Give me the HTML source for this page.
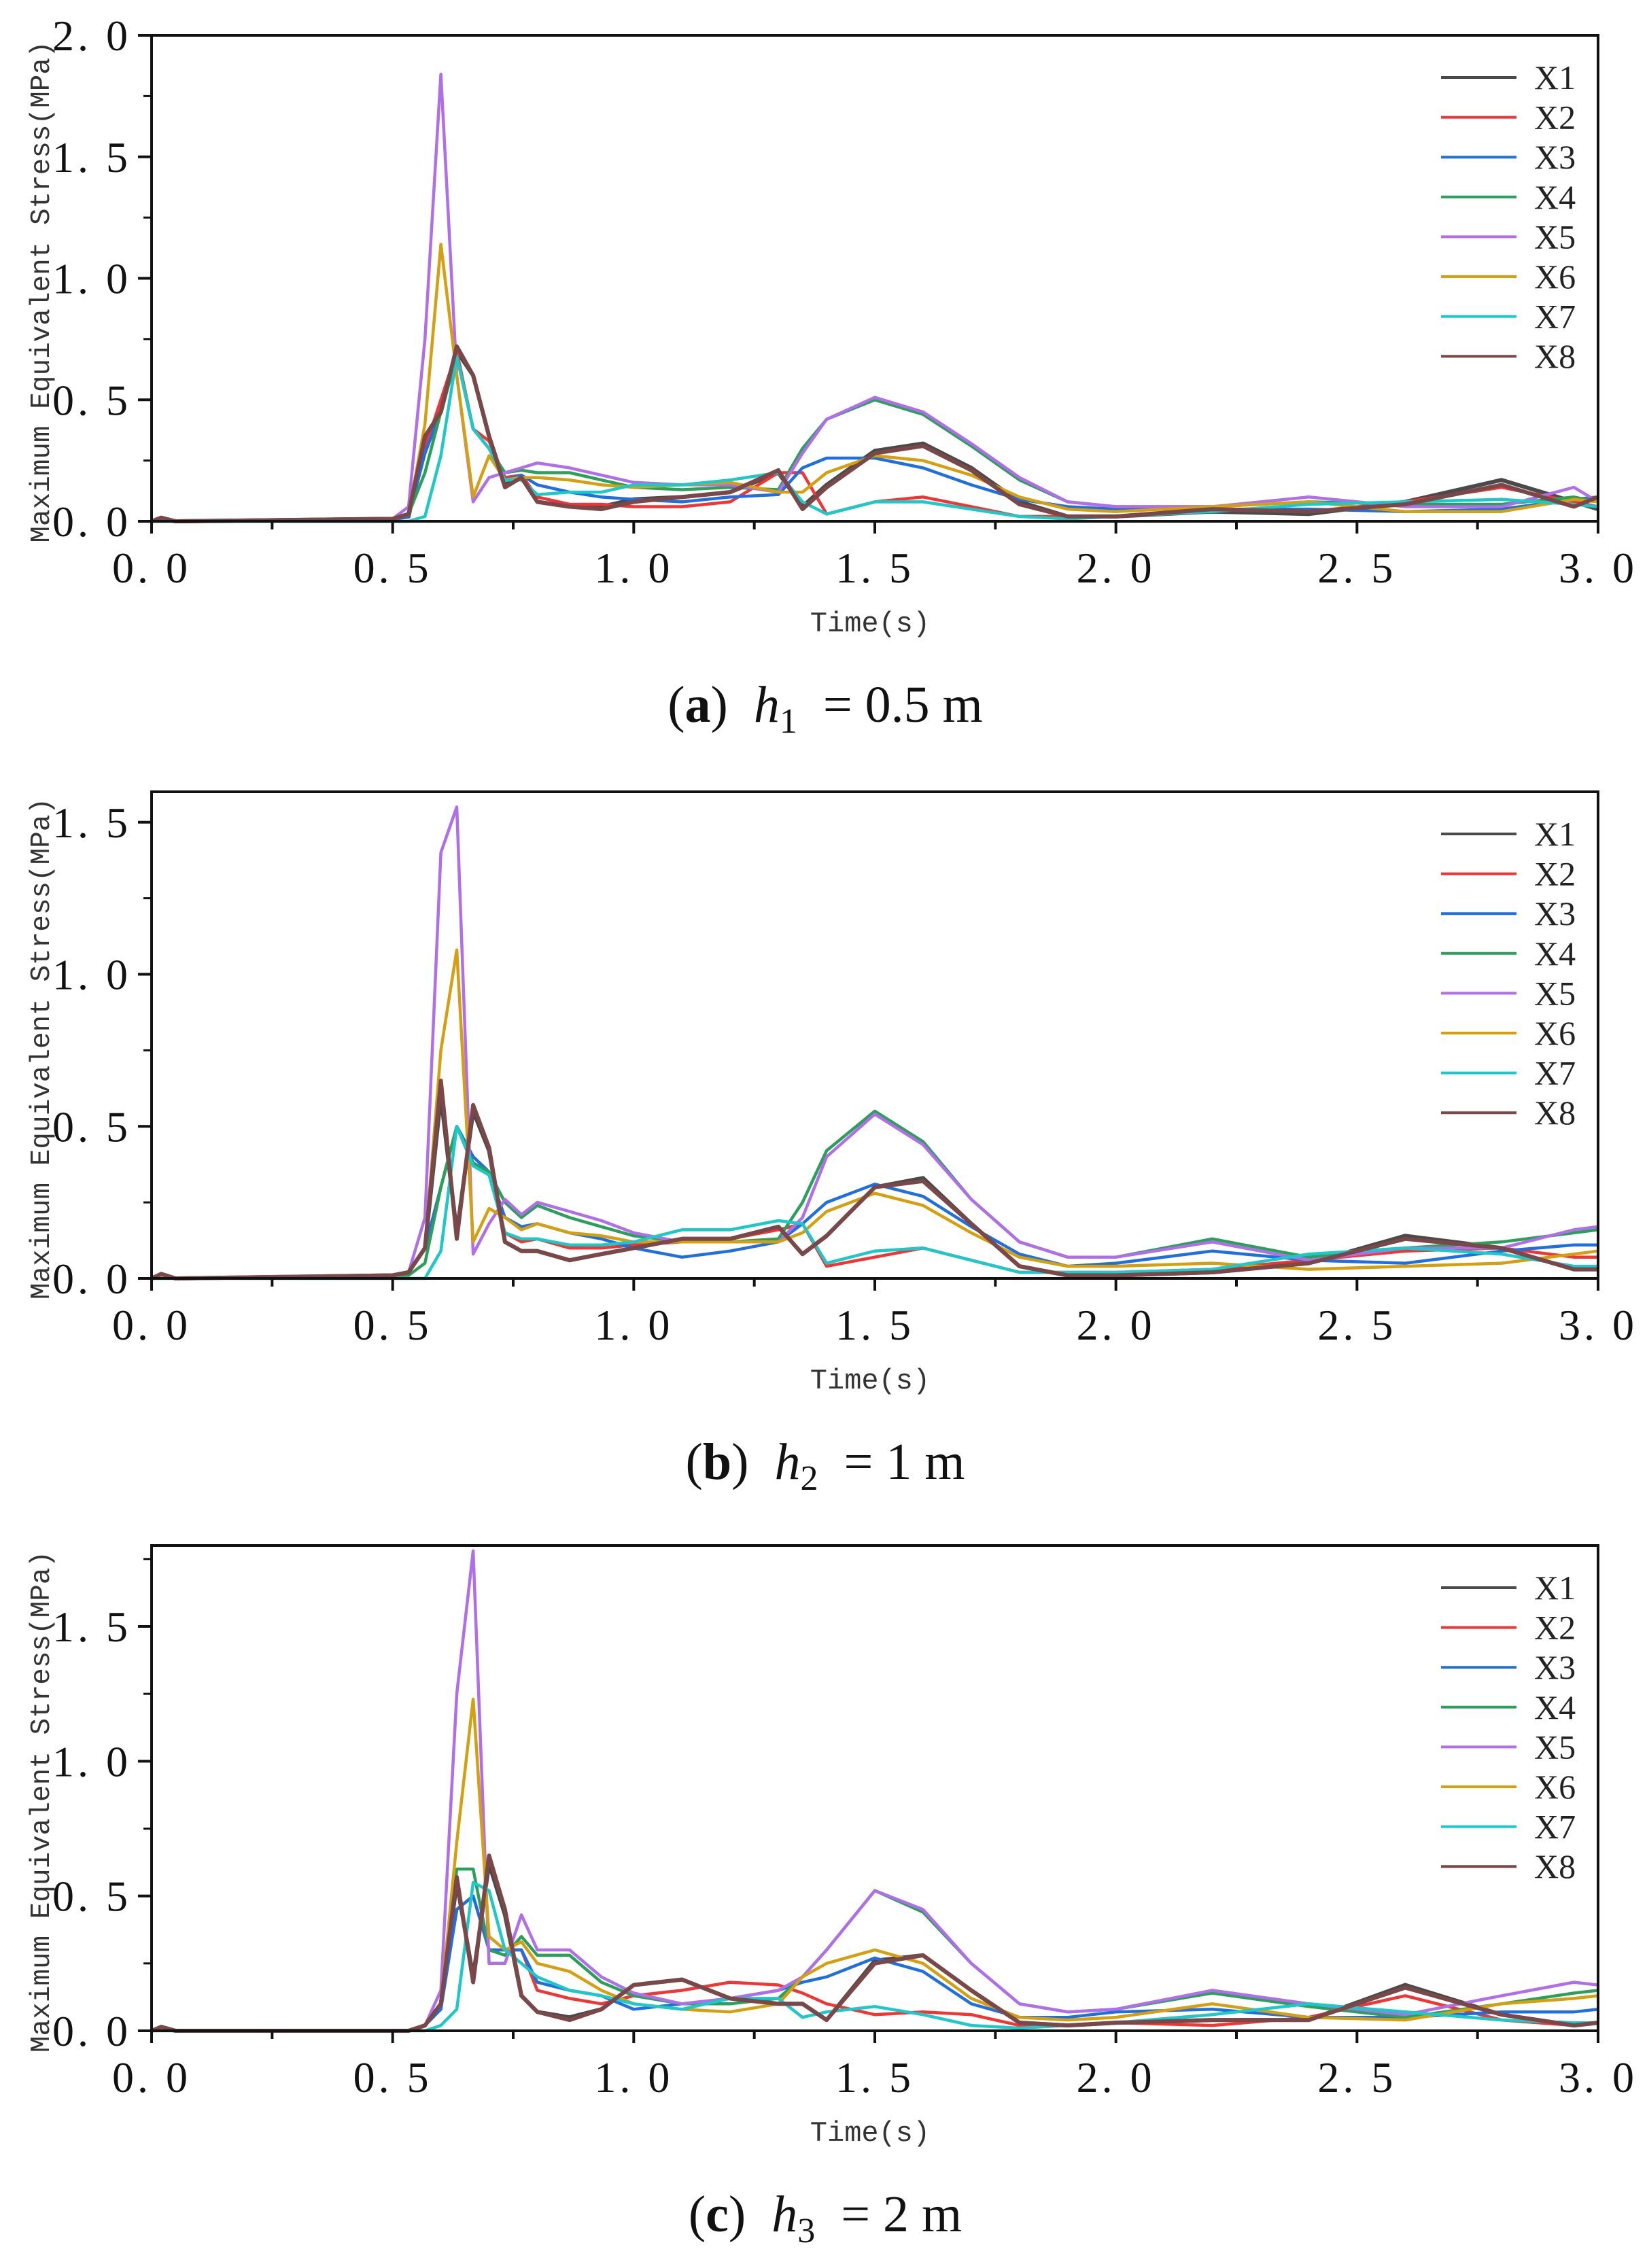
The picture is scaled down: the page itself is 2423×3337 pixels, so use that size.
<!DOCTYPE html>
<html><head><meta charset="utf-8"><style>
html,body{margin:0;padding:0;background:#fff;}
svg{display:block;}
</style></head><body>
<svg id="fig" width="2423" height="3337" viewBox="0 0 2423 3337" xmlns="http://www.w3.org/2000/svg"></svg>
<script>
const times=[0,0.02,0.05,0.5,0.533,0.567,0.6,0.633,0.667,0.7,0.733,0.767,0.8,0.867,0.933,1.0,1.1,1.2,1.3,1.35,1.4,1.5,1.6,1.7,1.8,1.9,2.0,2.2,2.4,2.6,2.8,2.95,3.0];
const seriesNames=["X1","X2","X3","X4","X5","X6","X7","X8"];
const seriesColors=["#4a4a4a","#f03535","#1f6fe0","#2aa05a","#b06ee8","#d4a010","#1cc8c8","#7a4848"];
const xTicks=[0,0.5,1.0,1.5,2.0,2.5,3.0];
const xTickLabels=["0. 0","0. 5","1. 0","1. 5","2. 0","2. 5","3. 0"];
// panel a
const a_X1=[0,0.01,0,0.01,0.02,0.33,0.45,0.7,0.6,0.35,0.15,0.18,0.08,0.06,0.06,0.09,0.1,0.12,0.2,0.06,0.15,0.29,0.32,0.22,0.08,0.02,0.02,0.04,0.03,0.08,0.17,0.08,0.05];
const a_X2=[0,0.01,0,0.01,0.02,0.3,0.5,0.7,0.38,0.33,0.18,0.19,0.1,0.07,0.07,0.06,0.06,0.08,0.2,0.2,0.03,0.08,0.1,0.06,0.02,0.02,0.02,0.05,0.04,0.08,0.14,0.08,0.06];
const a_X3=[0,0.01,0,0.01,0.02,0.28,0.45,0.68,0.38,0.3,0.17,0.19,0.15,0.12,0.1,0.09,0.08,0.1,0.11,0.22,0.26,0.26,0.22,0.15,0.09,0.06,0.05,0.05,0.05,0.04,0.05,0.09,0.1];
const a_X4=[0,0.01,0,0.01,0.03,0.2,0.45,0.68,0.38,0.3,0.2,0.21,0.2,0.2,0.17,0.14,0.13,0.14,0.13,0.3,0.42,0.5,0.44,0.31,0.17,0.08,0.06,0.06,0.08,0.07,0.07,0.1,0.08];
const a_X5=[0,0.01,0,0.01,0.06,0.75,1.84,0.6,0.08,0.18,0.2,0.22,0.24,0.22,0.19,0.16,0.15,0.15,0.12,0.28,0.42,0.51,0.45,0.32,0.18,0.08,0.06,0.06,0.1,0.06,0.06,0.14,0.08];
const a_X6=[0,0.01,0,0.01,0.03,0.4,1.14,0.6,0.1,0.27,0.17,0.18,0.18,0.17,0.15,0.14,0.15,0.16,0.12,0.12,0.2,0.27,0.25,0.19,0.1,0.05,0.04,0.06,0.08,0.04,0.04,0.09,0.08];
const a_X7=[0,0,0,0,0,0.02,0.27,0.68,0.38,0.3,0.17,0.17,0.11,0.12,0.12,0.15,0.15,0.17,0.2,0.08,0.03,0.08,0.08,0.05,0.02,0.01,0.02,0.04,0.07,0.08,0.09,0.07,0.06];
const a_X8=[0,0.015,0,0.01,0.03,0.35,0.45,0.72,0.6,0.35,0.14,0.18,0.08,0.06,0.05,0.08,0.1,0.12,0.21,0.05,0.14,0.28,0.31,0.21,0.07,0.02,0.02,0.05,0.04,0.07,0.15,0.06,0.1];
// panel b
const b_X1=[0,0.01,0,0.01,0.02,0.1,0.6,0.15,0.55,0.42,0.12,0.09,0.09,0.06,0.08,0.1,0.13,0.13,0.17,0.08,0.14,0.3,0.33,0.18,0.04,0.01,0.01,0.02,0.05,0.14,0.1,0.03,0.03];
const b_X2=[0,0.01,0,0.01,0.02,0.1,0.3,0.5,0.4,0.35,0.15,0.12,0.13,0.1,0.1,0.11,0.12,0.13,0.16,0.18,0.04,0.07,0.1,0.06,0.02,0.02,0.02,0.03,0.06,0.09,0.1,0.07,0.07];
const b_X3=[0,0.01,0,0.01,0.02,0.1,0.3,0.5,0.4,0.35,0.2,0.17,0.18,0.15,0.13,0.1,0.07,0.09,0.12,0.18,0.25,0.31,0.27,0.17,0.08,0.04,0.05,0.09,0.06,0.05,0.09,0.11,0.11];
const b_X4=[0,0.01,0,0.01,0.01,0.05,0.3,0.5,0.38,0.35,0.25,0.2,0.24,0.2,0.17,0.14,0.12,0.12,0.13,0.25,0.42,0.55,0.45,0.26,0.12,0.07,0.07,0.13,0.07,0.1,0.12,0.15,0.16];
const b_X5=[0,0.01,0,0.01,0.02,0.2,1.4,1.55,0.08,0.18,0.26,0.21,0.25,0.22,0.19,0.15,0.12,0.12,0.12,0.2,0.4,0.54,0.44,0.26,0.12,0.07,0.07,0.12,0.06,0.1,0.1,0.16,0.17];
const b_X6=[0,0.01,0,0.01,0.02,0.1,0.75,1.08,0.12,0.23,0.2,0.16,0.18,0.15,0.14,0.12,0.12,0.12,0.12,0.15,0.22,0.28,0.24,0.15,0.07,0.04,0.04,0.05,0.03,0.04,0.05,0.08,0.09];
const b_X7=[0,0,0,0,0,0,0.09,0.5,0.37,0.34,0.15,0.13,0.13,0.11,0.11,0.12,0.16,0.16,0.19,0.18,0.05,0.09,0.1,0.06,0.02,0.02,0.02,0.03,0.08,0.1,0.08,0.04,0.04];
const b_X8=[0,0.015,0,0.01,0.02,0.1,0.65,0.13,0.57,0.43,0.12,0.09,0.09,0.06,0.08,0.1,0.13,0.13,0.17,0.08,0.14,0.3,0.32,0.18,0.04,0.01,0.01,0.02,0.05,0.13,0.1,0.03,0.03];
// panel c
const c_X1=[0,0.01,0,0,0,0.02,0.1,0.55,0.2,0.62,0.43,0.13,0.07,0.05,0.08,0.17,0.19,0.12,0.1,0.1,0.04,0.26,0.28,0.15,0.03,0.02,0.03,0.04,0.04,0.17,0.06,0.02,0.03];
const c_X2=[0,0.01,0,0,0,0.02,0.1,0.45,0.5,0.3,0.3,0.3,0.15,0.12,0.1,0.13,0.15,0.18,0.17,0.14,0.1,0.06,0.07,0.06,0.02,0.02,0.03,0.02,0.05,0.13,0.04,0.02,0.03];
const c_X3=[0,0.01,0,0,0,0.02,0.08,0.45,0.5,0.3,0.3,0.3,0.18,0.15,0.13,0.08,0.1,0.12,0.15,0.18,0.2,0.27,0.22,0.1,0.05,0.05,0.07,0.08,0.05,0.05,0.07,0.07,0.08];
const c_X4=[0,0.01,0,0,0,0.02,0.1,0.6,0.6,0.3,0.28,0.35,0.28,0.28,0.18,0.13,0.1,0.1,0.12,0.2,0.3,0.52,0.44,0.25,0.1,0.07,0.08,0.14,0.09,0.05,0.1,0.14,0.15];
const c_X5=[0,0.01,0,0,0,0.02,0.15,1.25,1.78,0.25,0.25,0.43,0.3,0.3,0.2,0.14,0.1,0.12,0.15,0.2,0.3,0.52,0.45,0.25,0.1,0.07,0.08,0.15,0.1,0.06,0.13,0.18,0.17];
const c_X6=[0,0.01,0,0,0,0.02,0.1,0.7,1.23,0.35,0.3,0.33,0.25,0.22,0.15,0.1,0.08,0.07,0.1,0.2,0.25,0.3,0.25,0.12,0.05,0.04,0.05,0.1,0.05,0.04,0.1,0.12,0.13];
const c_X7=[0,0,0,0,0,0,0.02,0.08,0.55,0.52,0.3,0.25,0.2,0.15,0.13,0.1,0.08,0.12,0.12,0.05,0.07,0.09,0.06,0.02,0.01,0.02,0.03,0.06,0.1,0.07,0.04,0.03,0.03];
const c_X8=[0,0.015,0,0,0,0.02,0.1,0.57,0.18,0.65,0.45,0.13,0.07,0.04,0.08,0.17,0.19,0.12,0.1,0.1,0.04,0.25,0.28,0.15,0.03,0.02,0.03,0.04,0.04,0.16,0.06,0.02,0.03];
const a_yTicks=[0,0.5,1.0,1.5,2.0];
const a_yTickLabels=["0. 0","0. 5","1. 0","1. 5","2. 0"];
const b_yTicks=[0,0.5,1.0,1.5];
const b_yTickLabels=["0. 0","0. 5","1. 0","1. 5"];
const c_yTicks=[0,0.5,1.0,1.5];
const c_yTickLabels=["0. 0","0. 5","1. 0","1. 5"];

const NS="http://www.w3.org/2000/svg";
const svg=document.getElementById('fig');
function mk(tag,attrs,parent,text){const e=document.createElementNS(NS,tag);for(const k in attrs)e.setAttribute(k,attrs[k]);if(text!==undefined)e.textContent=text;(parent||svg).appendChild(e);return e;}

const panels=[
 {id:'a',top:52,bottom:767,ymax:2.0,yt:a_yTicks,ytl:a_yTickLabels,minor:[0.25,0.75,1.25,1.75],data:[a_X1,a_X2,a_X3,a_X4,a_X5,a_X6,a_X7,a_X8],sub:'1',val:'0.5 m'},
 {id:'b',top:1165,bottom:1881,ymax:1.6,yt:b_yTicks,ytl:b_yTickLabels,minor:[0.25,0.75,1.25],data:[b_X1,b_X2,b_X3,b_X4,b_X5,b_X6,b_X7,b_X8],sub:'2',val:'1 m'},
 {id:'c',top:2274,bottom:2988,ymax:1.8,yt:c_yTicks,ytl:c_yTickLabels,minor:[0.25,0.75,1.25,1.75],data:[c_X1,c_X2,c_X3,c_X4,c_X5,c_X6,c_X7,c_X8],sub:'3',val:'2 m'}
];
const L=223,R=2351;
const TF='Liberation Serif, serif';
panels.forEach(p=>{
 const g=mk('g',{});
 
 
 const xs=t=>L+(t/3)*(R-L);
 const ys=v=>p.bottom-(v/p.ymax)*(p.bottom-p.top);
 p.data.forEach((arr,i)=>{
  const d=arr.map((v,j)=>(j?'L':'M')+xs(times[j]).toFixed(1)+' '+ys(v).toFixed(1)).join(' ');
  const path=mk('path',{d:d,fill:'none',stroke:seriesColors[i],'stroke-width':(i===0||i===7)?6:4.5,'stroke-linejoin':'round'},g);
  
  
 });
 const fr=mk('rect',{x:L,y:p.top,width:R-L,height:p.bottom-p.top,fill:'none',stroke:'#111','stroke-width':4},g);
 
 
 xTicks.forEach((t,i)=>{
  mk('line',{x1:xs(t),x2:xs(t),y1:p.bottom,y2:p.bottom+18,stroke:'#111','stroke-width':4},g);
  const tl=mk('text',{x:xs(t),y:p.bottom+90,'text-anchor':'middle','font-family':TF,'font-size':64,'letter-spacing':5,fill:'#111'},g,xTickLabels[i]);
  
  
  if(i<6){const m=t+0.25;mk('line',{x1:xs(m),x2:xs(m),y1:p.bottom,y2:p.bottom+12,stroke:'#111','stroke-width':4},g);}
 });
 p.yt.forEach((v,i)=>{
  mk('line',{x1:L-20,x2:L,y1:ys(v),y2:ys(v),stroke:'#111','stroke-width':4},g);
  const tl=mk('text',{x:L-30,y:ys(v)+22,'text-anchor':'end','font-family':TF,'font-size':64,'letter-spacing':5,fill:'#111'},g,p.ytl[i]);
  
  
 });
 p.minor.forEach(v=>{mk('line',{x1:L-12,x2:L,y1:ys(v),y2:ys(v),stroke:'#111','stroke-width':3},g);});
 const yt=mk('text',{x:0,y:0,transform:'translate(72,'+((p.top+p.bottom)/2+20)+') rotate(-90)','text-anchor':'middle','font-family':'Liberation Mono, monospace','font-size':41,fill:'#333'},g,'Maximum Equivalent Stress(MPa)');
 
 
 const xt=mk('text',{x:1280,y:p.bottom+162,'text-anchor':'middle','font-family':'Liberation Mono, monospace','font-size':42,fill:'#333'},g,'Time(s)');
 
 
 seriesNames.forEach((n,i)=>{
  const ly=p.top+62+i*58.6;
  const ln=mk('line',{x1:2120,x2:2231,y1:ly,y2:ly,stroke:seriesColors[i],'stroke-width':4},g);
  
  
  const lt=mk('text',{x:2257,y:ly+17,'font-family':TF,'font-size':50,fill:'#222'},g,n);
  
  
 });
 const cap=mk('text',{x:1214,y:p.bottom+295,'text-anchor':'middle','font-family':TF,'font-size':76,fill:'#111'},g);
 
 
 mk('tspan',{},cap,'(');
 mk('tspan',{'font-weight':'bold'},cap,p.id);
 mk('tspan',{},cap,')\u00a0\u00a0');
 mk('tspan',{'font-style':'italic'},cap,'h');
 mk('tspan',{'font-size':52,dy:16},cap,p.sub);
 mk('tspan',{dy:-16},cap,'\u00a0\u00a0= '+p.val);
});
</script>
</body></html>
